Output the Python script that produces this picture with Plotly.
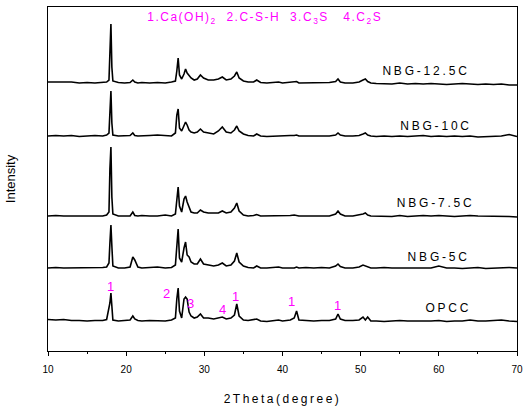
import plotly.graph_objects as go

# 2-theta positions (degree) at which the patterns were read
two_theta = [10, 11, 12, 13, 14, 15, 16, 17, 17.5, 17.8, 17.92, 18.05, 18.17, 18.3,
             19, 19.8, 20.5, 20.85, 21.1, 21.5, 22, 23, 24, 25,
             25.8, 26.3, 26.48, 26.65, 26.82, 27.1, 27.4, 27.6, 27.8, 28.05, 28.3, 28.7,
             29.1, 29.5, 29.9, 30.5, 31.2, 31.8, 32.3, 32.8, 33.4, 33.85, 34.15, 34.45,
             35, 35.6, 36.3, 36.7, 37.2, 38, 39, 39.5, 40, 41,
             41.5, 41.8, 42.1, 43, 44, 45, 46, 46.8, 47.1, 47.4,
             48, 49, 49.8, 50.3, 50.6, 50.9, 51.3, 52,
             53, 54, 55, 56, 57, 58, 59, 60, 61, 62, 63, 64, 65, 66, 67, 68, 69, 70]

series_names = ["NBG-12.5C", "NBG-10C", "NBG-7.5C", "NBG-5C", "OPCC"]
offsets = [268, 215, 135, 83, 30]

nbg_12_5c = [1, 1, 0.5, 1, 0, 0.5, 0, 0.5, 1, 3, 38, 59, 16, 2,
             0.5, 0, 0.5, 3, 1, 0, 0.5, 0, 0.5, 0,
             1, 2, 12, 25, 8, 4, 9, 14, 10, 7, 5, 3,
             4, 8, 5, 3, 3, 4, 6, 3, 4, 7, 11, 5,
             2, 1, 1, 3, 0.5, 0, 0.5, 1, 0, 0.5,
             1, 1.5, 0, 0, 0.5, 0, 0.5, 1.5, 4, 1,
             0, 0, 1, 3, 4, 1.5, 0, -0.5,
             -0.5, -1, 0, -1, -0.5, -1, -0.5, -1, -1.5, -1, -0.5, -1, -1.5, -1, -1.5, -1, -2, -2]
nbg_10c = [0, 0.5, 0, 0.5, -0.5, 0, 0.5, 0, 1, 3, 28, 45, 13, 1,
           0, 0, 0.5, 3, 0.5, 0, 0, 0.5, 1, 0.5,
           0, 3, 21, 27, 8, 5, 10, 14, 11, 6, 4, 3,
           4, 7, 4, 3, 2, 5, 9, 4, 3, 6, 10, 5,
           2, 0.5, 0, 2, 0, -0.5, 0, 0.5, 0, 0.5,
           0.5, 1, 0, 0, -0.5, 0, 0, 1, 3, 1,
           0, 0, 0.5, 2, 3, 1, 0, -0.5,
           0, -0.5, 0, -0.5, 0, 0.5, -0.5, 0, -0.5, 0, -0.5, 0, -1, -0.5, 0, 0, 1.5, -0.5]
nbg_7_5c = [0, 0.5, 0, 0, 0, 0.5, 0, 0, 1, 4, 47, 69, 19, 2,
            0, 0, 0, 4, 0.5, 0, 0.5, 0, 0, 1,
            0, 2, 19, 29, 10, 4, 17, 20, 14, 8, 4, 3,
            3, 6, 4, 3, 3, 3, 5, 3, 4, 8, 13, 5,
            1, 0, 0.5, 1.5, 0, 0, 0.5, 0, 0, 0.5,
            1, 0.5, 0, 0, 0, 0.5, 0, 2, 5, 2,
            0, 0, 1, 2, 3, 1, 0, 0,
            -0.5, -0.5, 0.5, -0.5, 0, 0.5, 0, 0.5, 0, -0.5, 0, 0.5, 0, 0, -0.5, 0, -0.5, -1]
nbg_5c = [0, 0.5, 0, 0, 0.5, 0, 0, 0.5, 1, 5, 25, 43, 22, 2,
          0, 0, 1, 11, 8, 1, 0, 0.5, 1, 0,
          0.5, 3, 25, 39, 10, 6, 20, 26, 13, 11, 6, 4,
          4, 9, 4, 3, 2, 3, 5, 2, 3, 7, 15, 6,
          2, 0.5, 0, 2, 0, 0, 0.5, 1, 0, 0.5,
          0, 1, 0, 0.5, 0, 0.5, 0, 2, 4, 1.5,
          0, 0, 1, 3, 2, 1, 0, 0,
          0.5, 0, 0, 0.5, 0, 0.5, 0, 2, 0, 0, -0.5, 0, 0.5, -0.5, 0, 0, 0.5, 0]
opcc = [1.5, 1, 1.5, 0.5, 0.5, 0, 0.5, 0.5, 1.5, 12, 18, 28, 8, 1,
        0, 0.5, 1, 5, 2, 0.5, 0, 0.5, 0.5, 0,
        1, 3, 22, 33, 10, 3, 22, 24, 22, 9, 5, 3,
        4, 7, 3, 3, 2, 3, 4, 2, 3, 6, 17, 5,
        1, 0.5, 1, 2, 0, -0.5, 0.5, 1, 0, 1,
        3, 10, 1, 0.5, 0, 0.5, 0.5, 2, 7, 2,
        0.5, 0.5, 1, 4, 1, 4, 0, 0,
        -0.5, 0, 0.5, 0, 0, -0.5, 0, 0.5, -0.5, 0, 0, 1, 0, 0, 0.5, 1, 0, -0.5]
patterns = [nbg_12_5c, nbg_10c, nbg_7_5c, nbg_5c, opcc]

# series label positions
label_x = [58.4, 59.7, 59.6, 60.0, 61.2]
label_y = [280, 225, 148, 94, 43]

# phase markers on OPCC
marker_text = ["1", "2", "3", "4", "1", "1", "1"]
marker_x = [17.95, 25.2, 28.25, 32.3, 33.95, 41.1, 47.0]
marker_y = [65, 58, 48, 42, 55, 50, 46]

legend_text = "1.Ca(OH)<sub>2</sub>  2.C-S-H  3.C<sub>3</sub>S   4.C<sub>2</sub>S"

fig = go.Figure()
for name, off, vals in zip(series_names, offsets, patterns):
    fig.add_trace(go.Scatter(x=two_theta, y=[off + v for v in vals], mode="lines",
                             line=dict(color="black", width=1.6), name=name,
                             showlegend=False))

annotations = []
for name, lx, ly in zip(series_names, label_x, label_y):
    annotations.append(dict(x=lx, y=ly, text=name, showarrow=False, xanchor="center",
                            yanchor="middle", font=dict(size=12, color="black")))
for t, mx, my in zip(marker_text, marker_x, marker_y):
    annotations.append(dict(x=mx, y=my, text=t, showarrow=False, xanchor="center",
                            yanchor="middle", font=dict(size=13, color="#ff00ff")))
annotations.append(dict(x=0.461, y=0.968, xref="paper", yref="paper", text=legend_text,
                        showarrow=False, xanchor="center", yanchor="middle",
                        font=dict(size=12, color="#ff00ff")))

fig.update_layout(
    width=526, height=406,
    margin=dict(l=48, r=9, t=7, b=55),
    paper_bgcolor="white", plot_bgcolor="white",
    font=dict(family="Arial, Liberation Sans, sans-serif", color="black"),
    annotations=annotations,
    xaxis=dict(range=[10, 70], tickvals=[10, 20, 30, 40, 50, 60, 70],
               ticks="outside", ticklen=4, tickwidth=1, tickcolor="black",
               ticklabelstandoff=5,
               minor=dict(tickvals=[15, 25, 35, 45, 55, 65], ticks="outside", ticklen=2,
                          tickcolor="black"),
               showline=True, linecolor="black", linewidth=1, mirror=True,
               showgrid=False, zeroline=False, tickfont=dict(size=10), automargin=False,
               title=dict(text="2Theta(degree)", font=dict(size=12), standoff=20)),
    yaxis=dict(range=[0, 344], showticklabels=False, ticks="", automargin=False,
               showline=True, linecolor="black", linewidth=1, mirror=True,
               showgrid=False, zeroline=False,
               title=dict(text="Intensity", font=dict(size=13), standoff=28)),
)

post = """
document.body.style.margin = '0';
document.body.style.padding = '0';
var gd = document.getElementsByClassName('plotly-graph-div')[0];
gd.querySelectorAll('.annotation-text').forEach(function(t){
   var s = t.textContent;
   if (s.indexOf('Ca(') >= 0) { t.style.letterSpacing = '1.5px'; }
   else if (s.length > 1) { t.style.letterSpacing = '2.8px'; }
});
gd.querySelectorAll('.xtitle').forEach(function(t){ t.style.letterSpacing = '2.5px'; });
"""
fig.write_html("out.html", post_script=post, config={"displayModeBar": False})
